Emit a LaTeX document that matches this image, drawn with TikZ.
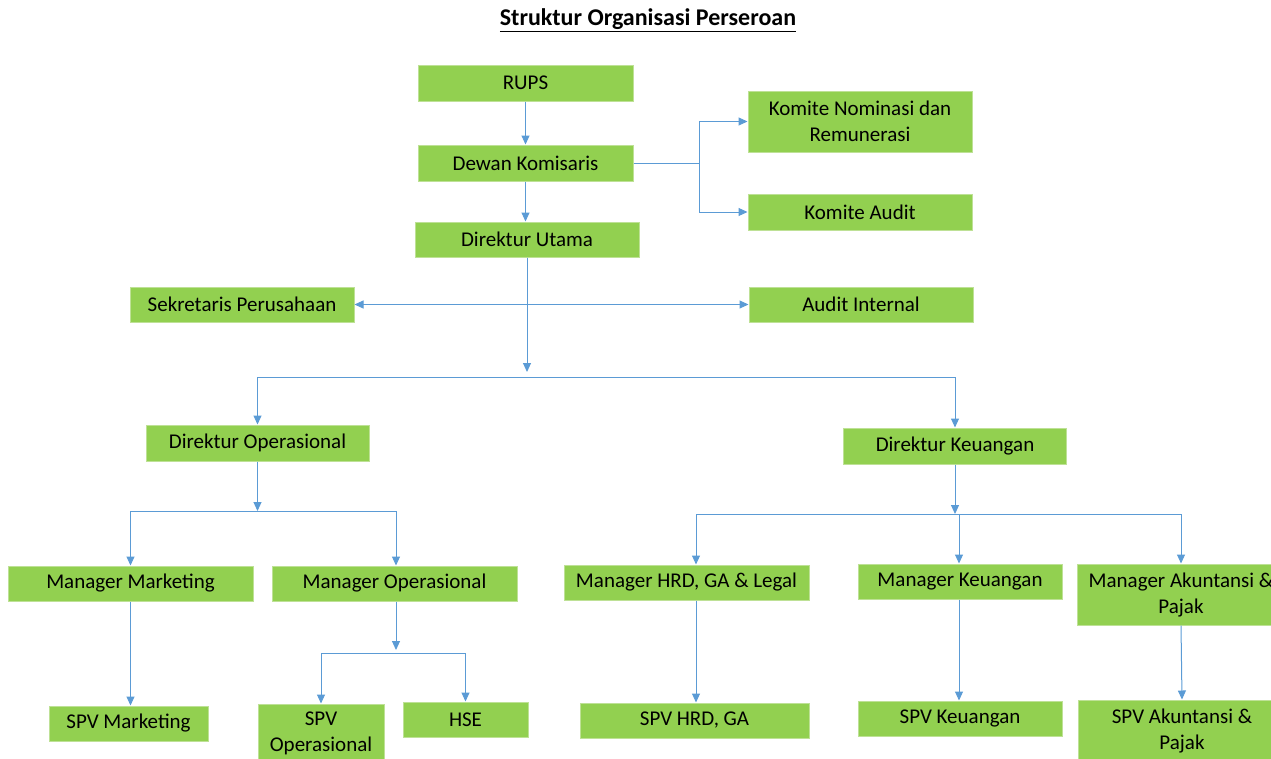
\documentclass[tikz,border=0pt]{standalone}
\usepackage{fontspec}
\setmainfont{Carlito}
\usetikzlibrary{arrows.meta,calc}
\definecolor{boxgreen}{HTML}{92D050}
\definecolor{boxedge}{HTML}{BEE196}
\definecolor{linkblue}{HTML}{5B9BD5}
\begin{document}
\begin{tikzpicture}[x=1pt,y=-1pt,
  box/.style={fill=boxgreen,draw=boxedge,line width=1pt,inner sep=0pt,align=center,
    font=\fontsize{21}{26}\selectfont},
  link/.style={draw=linkblue,line width=1pt},
  tip/.tip={Triangle[length=9pt,width=8pt]},
  arr/.style={link,-tip},
]
\useasboundingbox (0,0) rectangle (1271,758);
\clip (0,0) rectangle (1271,758);

\node[font=\fontsize{24}{28}\selectfont\bfseries] (title) at (648,20) {\underline{Struktur Organisasi Perseroan}};

\node[box,minimum width=215,minimum height=36] (rups) at (525.5,83) {RUPS};
\node[box,minimum width=215,minimum height=36] (dk) at (525.5,163) {Dewan Komisaris};
\node[box,minimum width=224,minimum height=35] (du) at (527,239.5) {Direktur Utama};
\node[box,minimum width=224,minimum height=61] (kn) at (860,121.5) {Komite Nominasi dan\\Remunerasi};
\node[box,minimum width=224,minimum height=36] (ka) at (860,212) {Komite Audit};
\node[box,minimum width=224,minimum height=35] (sp) at (242,304.5) {Sekretaris Perusahaan};
\node[box,minimum width=224,minimum height=35] (ai) at (861,304.5) {Audit Internal};
\node[box,minimum width=223,minimum height=36] (dop) at (257.5,443) {Direktur Operasional};
\node[box,minimum width=223,minimum height=36] (dke) at (955,446) {Direktur Keuangan};

\node[box,minimum width=245,minimum height=35] (mm) at (130.5,583.5) {Manager Marketing};
\node[box,minimum width=245,minimum height=35] (mo) at (394.5,583.5) {Manager Operasional};
\node[box,minimum width=245,minimum height=35] (mh) at (686.5,582.5) {Manager HRD, GA \& Legal};
\node[box,minimum width=204,minimum height=35] (mk) at (960,581.5) {Manager Keuangan};
\node[box,minimum width=208,minimum height=61] (ma) at (1181,594.5) {Manager Akuntansi \&\\Pajak};

\node[box,minimum width=159,minimum height=35] (sm) at (128.5,723.5) {SPV Marketing};
\node[box,minimum width=126,minimum height=58] (so) at (321,733) {SPV\\Operasional};
\node[box,minimum width=125,minimum height=35] (hse) at (465.5,719.5) {HSE};
\node[box,minimum width=229,minimum height=35] (sh) at (694.5,720.5) {SPV HRD, GA};
\node[box,minimum width=204,minimum height=35] (sk) at (960,718.5) {SPV Keuangan};
\node[box,minimum width=208,minimum height=61] (sa) at (1182,730.5) {SPV Akuntansi \&\\Pajak};

% bus coordinates
\coordinate (j1) at (699,163);
\coordinate (j2) at (527,372);
\coordinate (b1) at (0,377);
\coordinate (b2) at (0,511);
\coordinate (b3) at (0,514);
\coordinate (b4) at (0,653);
\coordinate (xk) at (959,0);
\coordinate (xh) at (696,0);
\coordinate (xo) at (396,0);

% top
\draw[arr] (rups.south) -- (dk.north);
\draw[arr] (dk.south) -- (dk.south |- du.north);
\draw[link] (dk.east) -- (j1);
\draw[arr] (j1) |- (kn.west);
\draw[arr] (j1) |- (ka.west);

% direktur utama
\draw[arr] (du.south) -- (j2);
\draw[link,tip-tip] (sp.east) -- (ai.west);
\draw[link] (dop.north |- b1) -- (dke.north |- b1);
\draw[arr] (dop.north |- b1) -- (dop.north);
\draw[arr] (dke.north |- b1) -- (dke.north);

% direktur operasional
\draw[arr] (dop.south) -- (dop.south |- b2);
\draw[link] (mm.north |- b2) -- (xo |- b2);
\draw[arr] (mm.north |- b2) -- (mm.north);
\draw[arr] (xo |- b2) -- (xo |- mo.north);

% direktur keuangan
\draw[arr] (dke.south) -- (dke.south |- b3);
\draw[link] (xh |- b3) -- (ma.north |- b3);
\draw[arr] (xh |- b3) -- (xh |- mh.north);
\draw[arr] (xk |- b3) -- (xk |- mk.north);
\draw[arr] (ma.north |- b3) -- (ma.north);

% managers to SPV
\draw[arr] (mm.south) -- (mm.south |- sm.north);
\draw[arr] (xo |- mo.south) -- (xo |- 0,650);
\draw[link] (so.north |- b4) -- (hse.north |- b4);
\draw[arr] (so.north |- b4) -- (so.north);
\draw[arr] (hse.north |- b4) -- (hse.north);
\draw[arr] (xh |- mh.south) -- (xh |- sh.north);
\draw[arr] (xk |- mk.south) -- (xk |- sk.north);
\draw[arr] (ma.south) -- (sa.north);
\end{tikzpicture}
\end{document}
